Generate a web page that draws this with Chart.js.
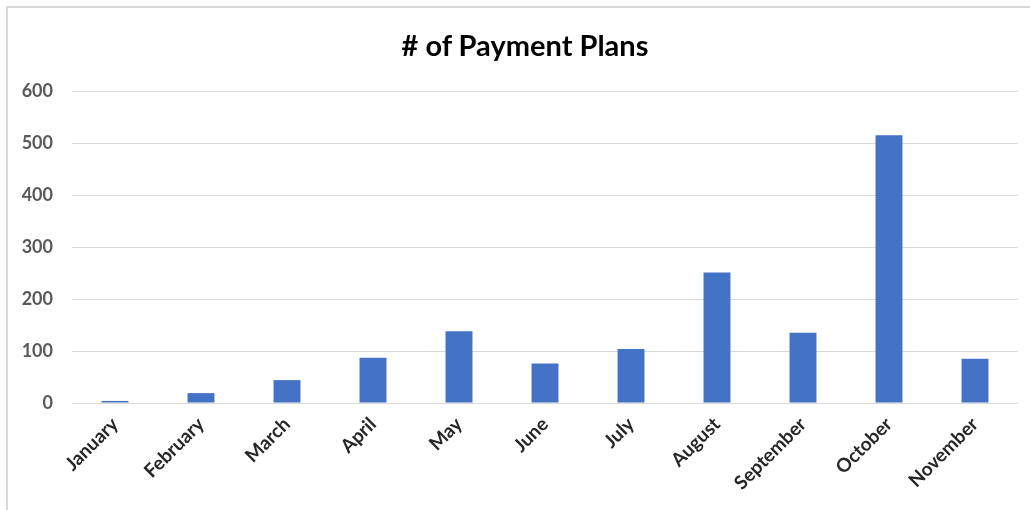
<!DOCTYPE html>
<html>
<head>
<meta charset="utf-8">
<script src="https://cdn.jsdelivr.net/npm/chart.js@4"></script>
<style>
  html, body { margin: 0; padding: 0; background: #ffffff; }
  #wrap { position: relative; width: 1030px; height: 510px; overflow: hidden; }
  #frame { position: absolute; left: 6px; top: 6px; right: -4px; bottom: -4px;
           border-left: 2px solid #d9d9d9; border-top: 2px solid #d9d9d9; pointer-events: none; }
  #title { position: absolute; left: 0; width: 1050px; top: 27px; height: 36px; line-height: 36px;
           text-align: center; font-family: Lato, 'Open Sans', sans-serif; font-weight: bold;
           font-size: 29px; color: #000; }
  canvas { position: absolute; left: 0; top: 0; }
</style>
</head>
<body>
<div id="wrap">
  <canvas id="c" width="1030" height="510"></canvas>
  <div id="title"></div>
  <div id="frame"></div>
</div>
<script>
const categories = ["January", "February", "March", "April", "May", "June", "July", "August", "September", "October", "November"];
const paymentPlans = [4, 19, 44, 87, 138, 76, 104, 251, 135, 515, 85];
const yTicks = [0, 100, 200, 300, 400, 500, 600];
const chartTitle = "# of Payment Plans";

document.getElementById('title').textContent = chartTitle;

const FONT = "Lato, 'Open Sans', 'Liberation Sans', sans-serif";

new Chart(document.getElementById('c'), {
  type: 'bar',
  data: {
    labels: categories,
    datasets: [{
      label: chartTitle,
      data: paymentPlans,
      backgroundColor: '#4472C4',
      borderWidth: 0,
      barPercentage: 0.313,
      categoryPercentage: 1.0
    }]
  },
  options: {
    responsive: false,
    animation: false,
    devicePixelRatio: 1,
    layout: { padding: { left: 0, right: 12, top: 91, bottom: 0 } },
    plugins: {
      legend: { display: false },
      tooltip: { enabled: false },
      title: { display: false }
    },
    scales: {
      x: {
        grid: { display: false, drawTicks: false },
        border: { display: false },
        ticks: {
          color: '#262626',
          font: { family: FONT, size: 19, weight: 'bold' },
          maxRotation: 45,
          minRotation: 45,
          padding: 10,
          autoSkip: false
        },
        afterFit: (s) => { s.height = 107; }
      },
      y: {
        min: 0,
        max: 600,
        afterBuildTicks: (s) => { s.ticks = yTicks.map(v => ({ value: v })); },
        grid: { color: '#d9d9d9', lineWidth: 1, drawTicks: false },
        border: { display: false },
        ticks: {
          color: '#595959',
          font: { family: FONT, size: 18, weight: 'bold' },
          padding: 19
        },
        afterFit: (s) => { s.width = 72; }
      }
    }
  }
});
</script>
</body>
</html>
